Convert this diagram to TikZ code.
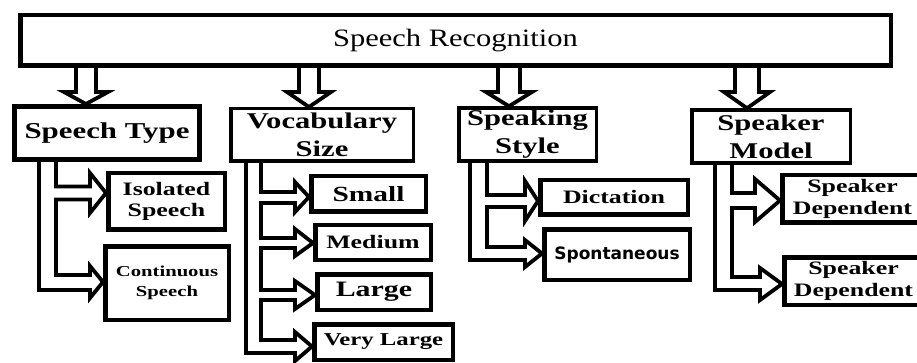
\documentclass[tikz,border=0pt]{standalone}
\usepackage{fontspec}
\setmainfont{Liberation Serif}
\newfontfamily\titlef[FakeStretch=1.22]{Liberation Serif}
\newfontfamily\boldf[FakeStretch=1.36]{Liberation Serif}
\newfontfamily\sansf{DejaVu Sans}
\usetikzlibrary{backgrounds,calc}
\newcommand\bsz[2]{\boldf\bfseries\fontsize{#1}{#2}\selectfont}
\tikzset{
  box/.style={draw, fill=white, rectangle, inner sep=0pt, align=center},
  catbox/.style={box, line width=3.5pt, minimum height=53pt, font=\bsz{22.5}{28}},
  subbox/.style={box, line width=4.5pt, font=\bsz{19}{21.5}},
  conn/.style={draw, fill=white, line width=3.8pt, line join=miter},
}
\begin{document}
\begin{tikzpicture}[x=1pt,y=-1pt]
\useasboundingbox (0,0) rectangle (917,363);
% main
\node[box, line width=4.5pt, minimum width=870.5pt, minimum height=50.5pt,
      font=\titlef\fontsize{25}{30}\selectfont] (M) at (455.5,40.5) {Speech Recognition};
% categories
\node[catbox, line width=5pt, minimum width=185pt, font=\bsz{22.7}{27}] (ST) at (107,133) {Speech Type};
\node[catbox, minimum width=182.5pt, minimum height=52.5pt] (VS) at (322,135) {Vocabulary\\Size};
\node[catbox, minimum width=137.5pt] (SS) at (527.5,134.5) {Speaking\\Style};
\node[catbox, minimum width=158.5pt] (SM) at (771,136.5) {Speaker\\Model};
% sub items
\node[subbox, minimum width=116.5pt, minimum height=56.5pt] (IS) at (166.5,201.5) {Isolated\\Speech};
\node[subbox, minimum width=123.5pt, minimum height=73.5pt, font=\bsz{15.2}{20}] (CS) at (167,283) {Continuous\\Speech};
\node[subbox, minimum width=114.5pt, minimum height=35.5pt, font=\bsz{21.6}{24}] (Small) at (368.5,194) {Small};
\node[subbox, minimum width=115.5pt, minimum height=34.5pt] (Medium) at (373,242.5) {Medium};
\node[subbox, minimum width=113.5pt, minimum height=35.5pt, font=\bsz{22}{25}] (Large) at (374,292) {Large};
\node[subbox, minimum width=138.5pt, minimum height=35.5pt, font=\bsz{18.2}{21}] (VL) at (383.5,342) {Very Large};
\node[subbox, minimum width=147.5pt, minimum height=34.5pt] (Dict) at (614,197.5) {Dictation};
\node[subbox, minimum width=145.5pt, minimum height=50.5pt, font=\sansf\bfseries\fontsize{17}{19}\selectfont] (Spont) at (617,254.5) {Spontaneous};
\node[subbox, minimum width=140.5pt, minimum height=47.5pt, font=\bsz{19}{21.5}] (SD1) at (852.5,199) {Speaker\\Dependent};
\node[subbox, minimum width=138.5pt, minimum height=47.5pt, font=\bsz{19}{21.5}] (SD2) at (853.5,281) {Speaker\\Dependent};
% connectors
\begin{scope}[on background layer]
% top arrows
\path[conn] (76,0 |- M.south) -- (76,92) -- (64,92) -- (86,0 |- ST.north) -- (108,92) -- (96,92) -- (96,0 |- M.south);
\path[conn] (299,0 |- M.south) -- (299,92) -- (287,92) -- (309,0 |- VS.north) -- (331,92) -- (319,92) -- (319,0 |- M.south);
\path[conn] (498,0 |- M.south) -- (498,92) -- (486,92) -- (509,0 |- SS.north) -- (532,92) -- (520,92) -- (520,0 |- M.south);
\path[conn] (735,0 |- M.south) -- (735,92) -- (724,92) -- (747,0 |- SM.north) -- (770,92) -- (759,92) -- (759,0 |- M.south);
% speech type tree
\path[conn] (39,0 |- ST.south) -- (39,290) -- (90,290) -- (90,298) -- (CS.west |- 0,282) -- (90,266) -- (90,275)
  -- (56,275) -- (56,199.5) -- (90,199.5) -- (90,213) -- (IS.west |- 0,193) -- (90,173) -- (90,186.5)
  -- (56,186.5) -- (56,0 |- ST.south);
% vocabulary tree
\path[conn] (246,0 |- VS.south) -- (246,353) -- (295,353) -- (295,361) -- (VL.west |- 0,346.5) -- (295,332) -- (295,340)
  -- (261,340) -- (261,300) -- (295,300) -- (295,309) -- (Large.west |- 0,295) -- (295,281) -- (295,290)
  -- (261,290) -- (261,248) -- (295,248) -- (295,256) -- (Medium.west |- 0,243) -- (295,229) -- (295,238)
  -- (261,238) -- (261,203) -- (295,203) -- (295,212) -- (Small.west |- 0,197) -- (295,182) -- (295,192)
  -- (261,192) -- (261,0 |- VS.south);
% speaking style tree
\path[conn] (470,0 |- SS.south) -- (470,260) -- (525,260) -- (525,267) -- (Spont.west |- 0,253.5) -- (525,240) -- (525,247)
  -- (487,247) -- (487,207) -- (525,207) -- (525,221) -- (Dict.west |- 0,201) -- (525,181) -- (525,195)
  -- (487,195) -- (487,0 |- SS.south);
% speaker model tree
\path[conn] (715,0 |- SM.south) -- (715,290) -- (760,290) -- (760,300) -- (SD2.west |- 0,284) -- (760,268) -- (760,277)
  -- (732,277) -- (732,208) -- (755,208) -- (755,222) -- (SD1.west |- 0,200.5) -- (755,179) -- (755,193)
  -- (732,193) -- (732,0 |- SM.south);
\end{scope}
\end{tikzpicture}
\end{document}
